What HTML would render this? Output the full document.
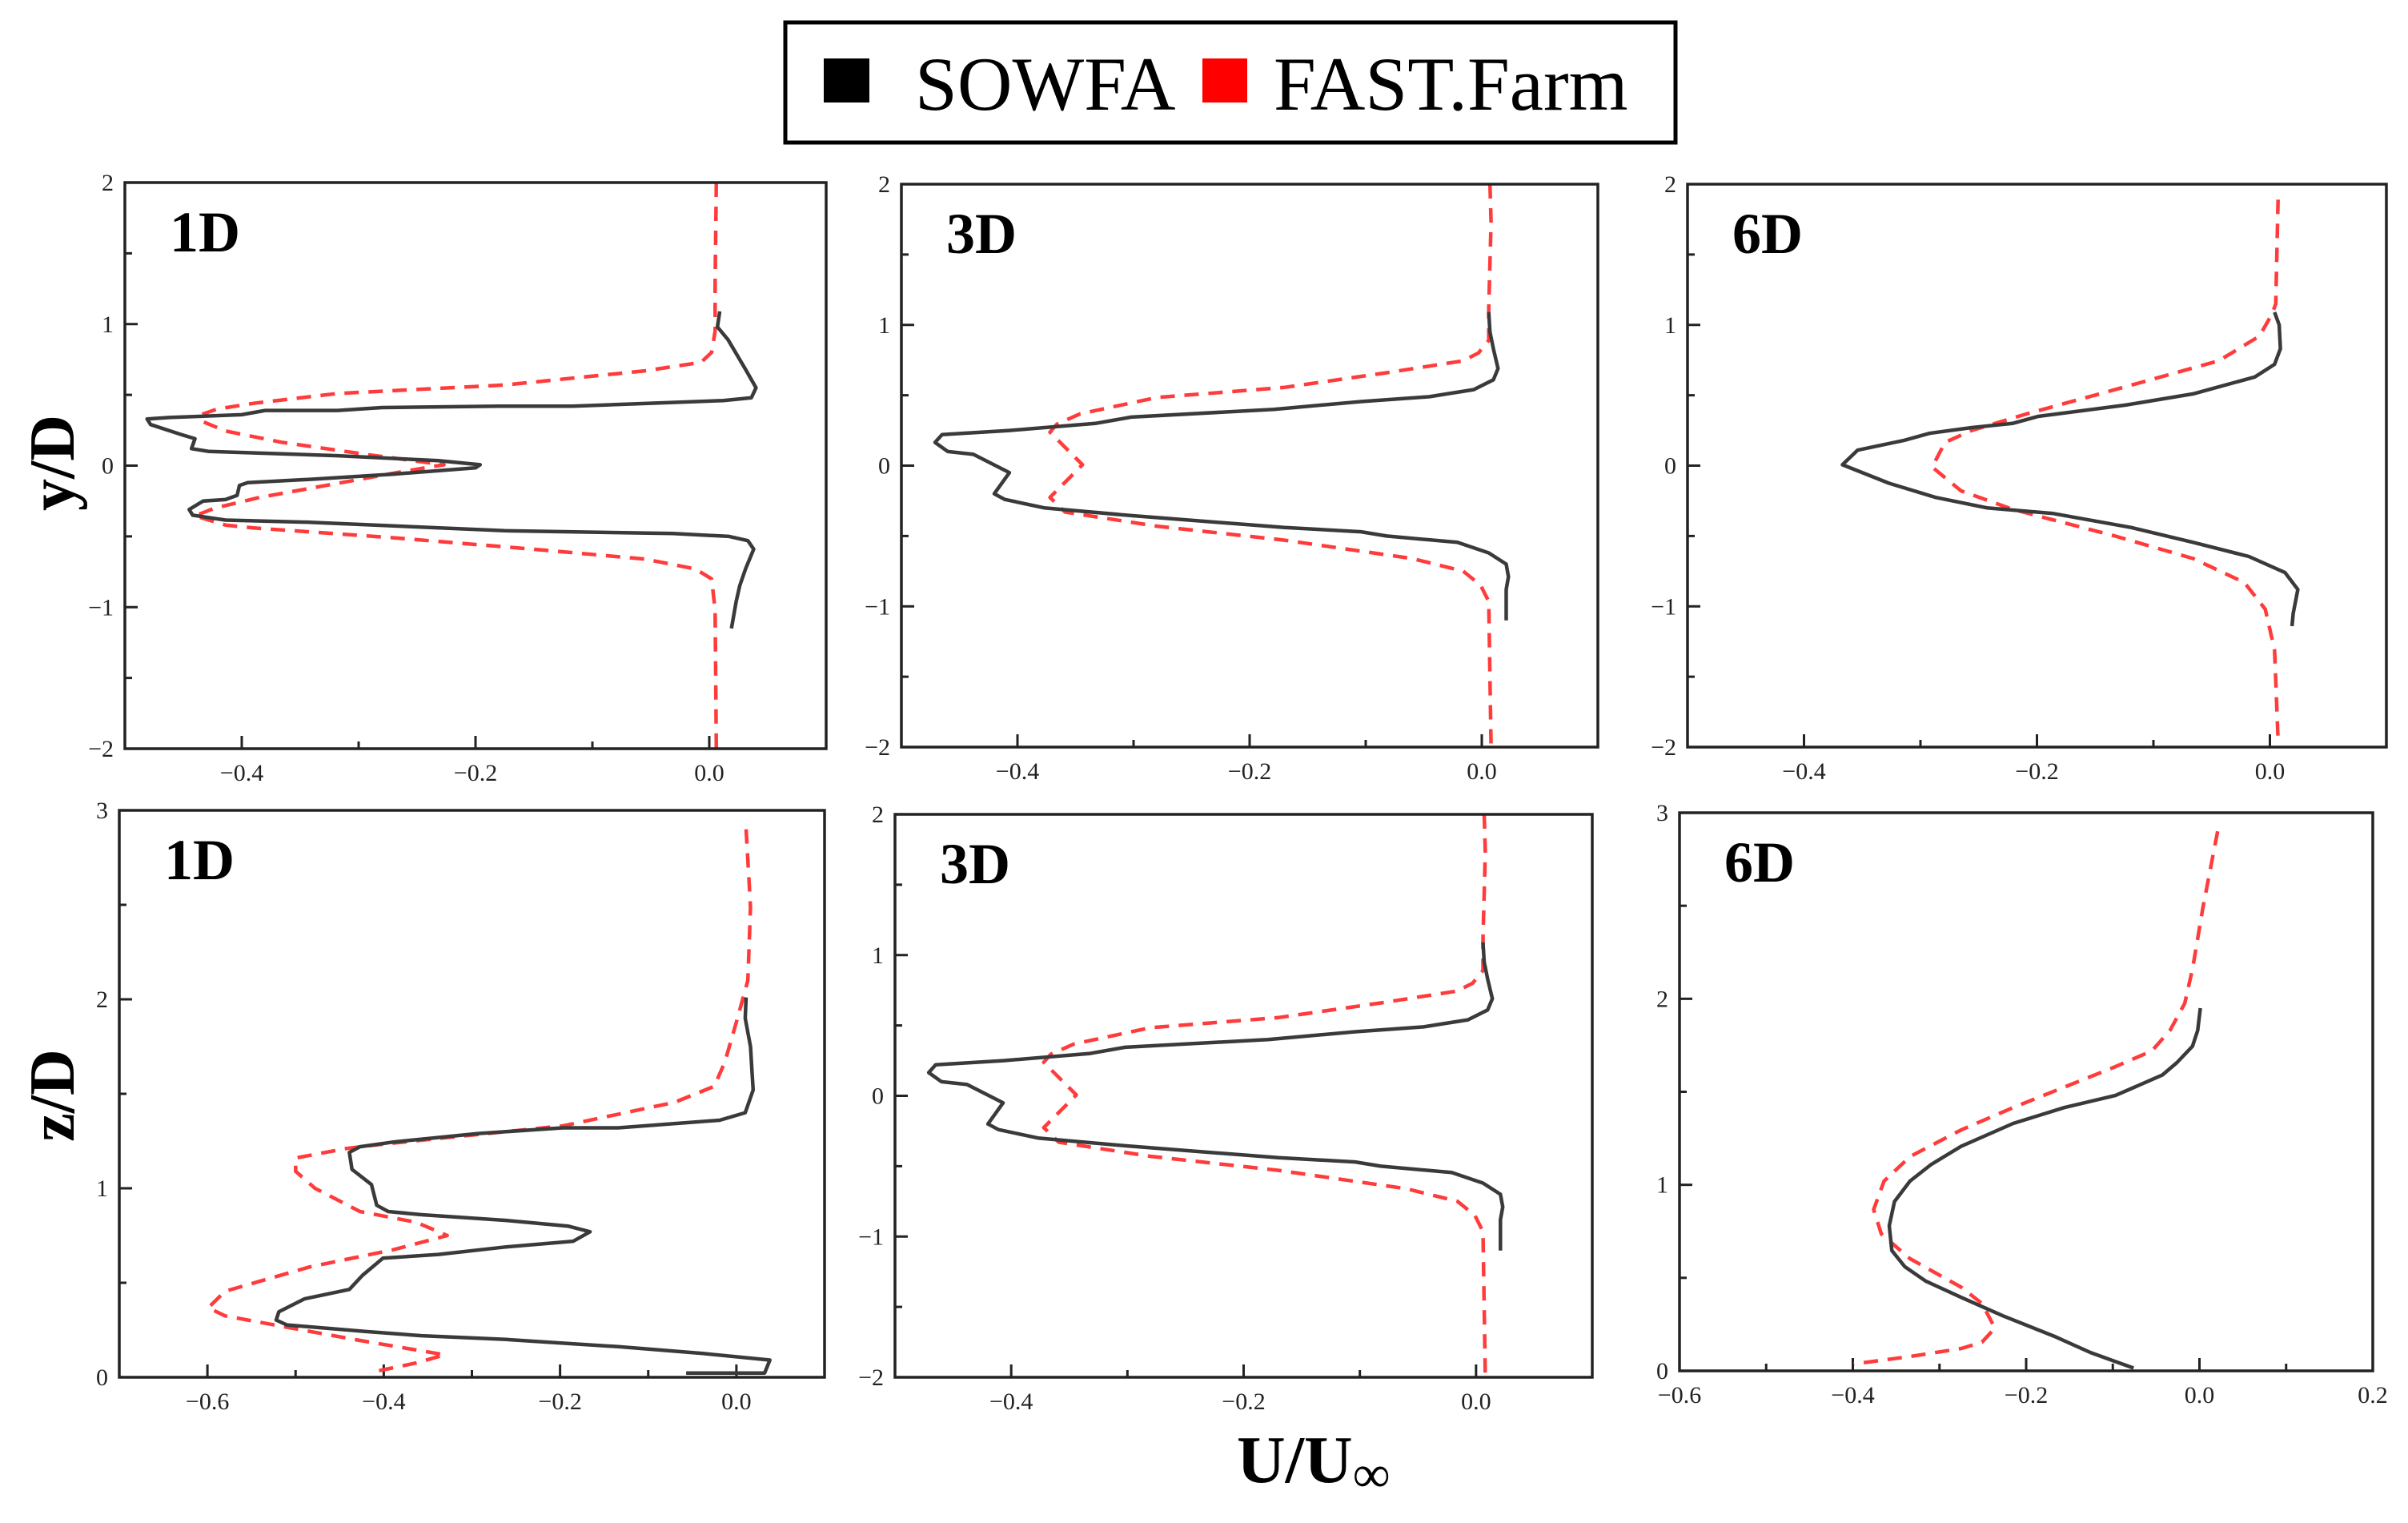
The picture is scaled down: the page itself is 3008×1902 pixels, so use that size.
<!DOCTYPE html>
<html><head><meta charset="utf-8"><style>
html,body{margin:0;padding:0;background:#fff;}
svg{display:block;font-family:"Liberation Serif",serif;}
</style></head><body>
<svg id="fig" width="3008" height="1902" viewBox="0 0 3008 1902" xmlns="http://www.w3.org/2000/svg">
<rect width="3008" height="1902" fill="#fff"/>
<g>
<rect x="981" y="28" width="1112" height="150" fill="#fff" stroke="#000" stroke-width="5"/>
<rect x="1029" y="73" width="57" height="55" fill="#000"/>
<text x="1143" y="137" font-size="95">SOWFA</text>
<rect x="1502" y="73" width="56" height="55" fill="#ff0000"/>
<text x="1591" y="137" font-size="95">FAST.Farm</text>
</g>
<text x="1545" y="1851" font-size="84" font-weight="bold">U/U<tspan font-size="66" font-weight="normal" dy="12">∞</tspan></text>
<text transform="translate(92,578) rotate(-90)" text-anchor="middle" font-size="80" font-weight="bold">y/D</text>
<text transform="translate(92,1368) rotate(-90)" text-anchor="middle" font-size="80" font-weight="bold">z/D</text>
<g id="plots"></g>
</svg>
<script>
const sowfa1Dy_x=[0.009,0.007,0.016,0.031,0.04,0.036,0.012,-0.117,-0.18,-0.28,-0.318,-0.38,-0.4,-0.462,-0.481,-0.478,-0.452,-0.44,-0.443,-0.428,-0.318,-0.232,-0.196,-0.2,-0.27,-0.337,-0.395,-0.402,-0.404,-0.414,-0.433,-0.445,-0.442,-0.414,-0.342,-0.175,-0.031,0.017,0.033,0.038,0.031,0.026,0.023,0.019];
const sowfa1Dy_y=[1.09,0.98,0.89,0.68,0.55,0.48,0.46,0.42,0.42,0.41,0.39,0.39,0.36,0.34,0.33,0.29,0.22,0.19,0.12,0.10,0.07,0.035,0.006,-0.015,-0.06,-0.095,-0.12,-0.14,-0.21,-0.24,-0.25,-0.31,-0.35,-0.385,-0.40,-0.46,-0.48,-0.5,-0.53,-0.59,-0.73,-0.85,-0.96,-1.15];
const fast1Dy_x=[0.006,0.005,0.005,0.002,-0.007,-0.055,-0.175,-0.318,-0.39,-0.421,-0.435,-0.433,-0.414,-0.366,-0.294,-0.227,-0.261,-0.318,-0.385,-0.423,-0.44,-0.414,-0.39,-0.27,-0.151,-0.055,-0.012,0.002,0.005,0.006];
const fast1Dy_y=[2.0,1.29,0.95,0.80,0.73,0.67,0.57,0.51,0.44,0.40,0.36,0.31,0.245,0.165,0.08,0.006,-0.04,-0.125,-0.225,-0.30,-0.355,-0.42,-0.44,-0.51,-0.59,-0.66,-0.73,-0.80,-1.02,-2.0];

const sowfa3Dy_x=[0.006,0.007,0.01,0.014,0.01,-0.007,-0.03,-0.045,-0.104,-0.179,-0.302,-0.333,-0.407,-0.465,-0.471,-0.46,-0.438,-0.407,-0.42,-0.411,-0.377,-0.302,-0.17,-0.104,-0.082,-0.021,0.006,0.021,0.023,0.021,0.021];
const sowfa3Dy_y=[1.09,0.95,0.83,0.69,0.61,0.54,0.51,0.49,0.455,0.40,0.345,0.30,0.25,0.22,0.165,0.10,0.08,-0.05,-0.20,-0.24,-0.30,-0.355,-0.44,-0.47,-0.50,-0.545,-0.62,-0.70,-0.79,-0.88,-1.10];
const fast3Dy_x=[0.007,0.008,0.006,0.006,-0.003,-0.016,-0.082,-0.17,-0.28,-0.346,-0.366,-0.372,-0.344,-0.372,-0.359,-0.28,-0.17,-0.06,-0.016,-0.001,0.006,0.008];
const fast3Dy_y=[2.0,1.73,1.12,0.89,0.80,0.745,0.66,0.556,0.484,0.368,0.295,0.238,0.006,-0.226,-0.33,-0.43,-0.53,-0.66,-0.75,-0.85,-0.965,-2.0];

const sowfa6Dy_x=[0.004,0.008,0.009,0.004,-0.013,-0.066,-0.124,-0.199,-0.221,-0.256,-0.292,-0.314,-0.354,-0.367,-0.327,-0.287,-0.243,-0.186,-0.119,-0.066,-0.018,0.013,0.024,0.02,0.019];
const sowfa6Dy_y=[1.09,1.0,0.83,0.72,0.63,0.51,0.43,0.35,0.30,0.27,0.23,0.18,0.11,0.006,-0.125,-0.226,-0.30,-0.34,-0.44,-0.545,-0.646,-0.76,-0.88,-1.05,-1.14];
const fast6Dy_x=[0.007,0.005,0.002,-0.009,-0.044,-0.133,-0.208,-0.256,-0.279,-0.29,-0.265,-0.221,-0.133,-0.066,-0.022,-0.004,0.004,0.007];
const fast6Dy_y=[1.89,1.15,1.08,0.92,0.745,0.54,0.37,0.25,0.165,-0.01,-0.18,-0.31,-0.50,-0.66,-0.83,-1.02,-1.31,-1.95];

const sowfa1Dz_x=[0.011,0.01,0.016,0.019,0.01,-0.019,-0.134,-0.197,-0.293,-0.389,-0.427,-0.439,-0.436,-0.414,-0.408,-0.395,-0.357,-0.261,-0.191,-0.166,-0.185,-0.261,-0.338,-0.401,-0.424,-0.439,-0.49,-0.519,-0.522,-0.51,-0.42,-0.357,-0.261,-0.134,-0.038,0.038,0.032,-0.057];
const sowfa1Dz_y=[2.01,1.90,1.75,1.52,1.40,1.36,1.32,1.32,1.29,1.245,1.22,1.19,1.10,1.02,0.91,0.877,0.86,0.83,0.80,0.77,0.72,0.69,0.65,0.63,0.54,0.465,0.415,0.346,0.303,0.277,0.242,0.22,0.2,0.162,0.126,0.091,0.022,0.022];
const fast1Dz_x=[0.011,0.016,0.013,0,-0.013,-0.025,-0.07,-0.197,-0.325,-0.408,-0.443,-0.5,-0.5,-0.478,-0.427,-0.363,-0.328,-0.389,-0.484,-0.58,-0.599,-0.58,-0.516,-0.427,-0.331,-0.363,-0.408];
const fast1Dz_y=[2.9,2.49,2.1,1.88,1.67,1.54,1.455,1.33,1.27,1.23,1.21,1.16,1.09,1.0,0.877,0.82,0.75,0.675,0.584,0.455,0.368,0.325,0.27,0.195,0.119,0.076,0.032];

const sowfa3Dz_x=[0.006,0.007,0.01,0.014,0.01,-0.007,-0.03,-0.045,-0.104,-0.179,-0.302,-0.333,-0.407,-0.465,-0.471,-0.46,-0.438,-0.407,-0.42,-0.411,-0.377,-0.302,-0.17,-0.104,-0.082,-0.021,0.006,0.021,0.023,0.021,0.021];
const sowfa3Dz_y=[1.09,0.95,0.83,0.69,0.61,0.54,0.51,0.49,0.455,0.40,0.345,0.30,0.25,0.22,0.165,0.10,0.08,-0.05,-0.20,-0.24,-0.30,-0.355,-0.44,-0.47,-0.50,-0.545,-0.62,-0.70,-0.79,-0.88,-1.10];
const fast3Dz_x=[0.007,0.008,0.006,0.006,-0.003,-0.016,-0.082,-0.17,-0.28,-0.346,-0.366,-0.372,-0.344,-0.372,-0.359,-0.28,-0.17,-0.06,-0.016,-0.001,0.006,0.008];
const fast3Dz_y=[2.0,1.73,1.12,0.89,0.80,0.745,0.66,0.556,0.484,0.368,0.295,0.238,0.006,-0.226,-0.33,-0.43,-0.53,-0.66,-0.75,-0.85,-0.965,-2.0];

const sowfa6Dz_x=[0.001,-0.002,-0.008,-0.026,-0.043,-0.097,-0.156,-0.215,-0.275,-0.31,-0.334,-0.352,-0.358,-0.355,-0.34,-0.316,-0.275,-0.227,-0.168,-0.126,-0.097,-0.076];
const sowfa6Dz_y=[1.95,1.83,1.745,1.657,1.59,1.48,1.415,1.33,1.207,1.108,1.02,0.91,0.78,0.647,0.56,0.483,0.395,0.296,0.187,0.099,0.05,0.015];
const fast6Dz_x=[0.021,0.004,-0.008,-0.017,-0.034,-0.055,-0.097,-0.156,-0.215,-0.275,-0.334,-0.364,-0.376,-0.367,-0.334,-0.275,-0.251,-0.236,-0.251,-0.275,-0.334,-0.399];
const fast6Dz_y=[2.9,2.49,2.16,1.975,1.83,1.72,1.635,1.525,1.415,1.295,1.152,1.02,0.867,0.735,0.603,0.45,0.362,0.23,0.154,0.12,0.077,0.037];

const xTicksA=[-0.4,-0.2,0.0], xMinorA=[-0.5,-0.3,-0.1,0.1];
const xTicksD=[-0.6,-0.4,-0.2,0.0], xMinorD=[-0.7,-0.5,-0.3,-0.1,0.1];
const xTicksF=[-0.6,-0.4,-0.2,0.0,0.2], xMinorF=[-0.5,-0.3,-0.1,0.1];
const yTicks2=[-2,-1,0,1,2], yMinor2=[-1.5,-0.5,0.5,1.5];
const yTicks3=[0,1,2,3], yMinor3=[0.5,1.5,2.5];

const panels=[
 {id:'1d-y',label:'1D',L:156,R:1032,T:228,B:935,xd:[-0.5,0.1],yd:[-2,2],xt:xTicksA,xm:xMinorA,yt:yTicks2,ym:yMinor2,sx:sowfa1Dy_x,sy:sowfa1Dy_y,fx:fast1Dy_x,fy:fast1Dy_y,dec:1},
 {id:'3d-y',label:'3D',L:1126,R:1996,T:230,B:933,xd:[-0.5,0.1],yd:[-2,2],xt:xTicksA,xm:xMinorA,yt:yTicks2,ym:yMinor2,sx:sowfa3Dy_x,sy:sowfa3Dy_y,fx:fast3Dy_x,fy:fast3Dy_y,dec:1},
 {id:'6d-y',label:'6D',L:2108,R:2981,T:230,B:933,xd:[-0.5,0.1],yd:[-2,2],xt:xTicksA,xm:xMinorA,yt:yTicks2,ym:yMinor2,sx:sowfa6Dy_x,sy:sowfa6Dy_y,fx:fast6Dy_x,fy:fast6Dy_y,dec:1},
 {id:'1d-z',label:'1D',L:149,R:1030,T:1012,B:1720,xd:[-0.7,0.1],yd:[0,3],xt:xTicksD,xm:xMinorD,yt:yTicks3,ym:yMinor3,sx:sowfa1Dz_x,sy:sowfa1Dz_y,fx:fast1Dz_x,fy:fast1Dz_y,dec:1},
 {id:'3d-z',label:'3D',L:1118,R:1989,T:1017,B:1720,xd:[-0.5,0.1],yd:[-2,2],xt:xTicksA,xm:xMinorA,yt:yTicks2,ym:yMinor2,sx:sowfa3Dz_x,sy:sowfa3Dz_y,fx:fast3Dz_x,fy:fast3Dz_y,dec:1},
 {id:'6d-z',label:'6D',L:2098,R:2964,T:1015,B:1712,xd:[-0.6,0.2],yd:[0,3],xt:xTicksF,xm:xMinorF,yt:yTicks3,ym:yMinor3,sx:sowfa6Dz_x,sy:sowfa6Dz_y,fx:fast6Dz_x,fy:fast6Dz_y,dec:1}
];
const NS='http://www.w3.org/2000/svg';
const root=document.getElementById('plots');
function mk(tag,attrs,parent){const e=document.createElementNS(NS,tag);for(const k in attrs)e.setAttribute(k,attrs[k]);parent.appendChild(e);return e;}
function fmt(v,d){const s=Math.abs(v).toFixed(d);return (v<-1e-9?'\u2212':'')+s;}
panels.forEach(p=>{
 const g=mk('g',{},root);
 
 
 const X=v=>p.L+(v-p.xd[0])/(p.xd[1]-p.xd[0])*(p.R-p.L);
 const Y=v=>p.B-(v-p.yd[0])/(p.yd[1]-p.yd[0])*(p.B-p.T);
 p.xt.forEach(v=>{
  const t=mk('line',{x1:X(v),x2:X(v),y1:p.B,y2:p.B-16,stroke:'#222','stroke-width':3},g);
  
  
  const l=mk('text',{x:X(v),y:p.B+40,'text-anchor':'middle','font-size':30,fill:'#222'},g);
  
  
  l.textContent=fmt(v,p.dec);
 });
 p.xm.forEach(v=>{if(v<=p.xd[0]||v>=p.xd[1])return;
  const t=mk('line',{x1:X(v),x2:X(v),y1:p.B,y2:p.B-9,stroke:'#222','stroke-width':3},g);
  
  });
 p.yt.forEach(v=>{
  const t=mk('line',{x1:p.L,x2:p.L+16,y1:Y(v),y2:Y(v),stroke:'#222','stroke-width':3},g);
  
  
  const l=mk('text',{x:p.L-14,y:Y(v)+10,'text-anchor':'end','font-size':30,fill:'#222'},g);
  
  
  l.textContent=fmt(v,0);
 });
 p.ym.forEach(v=>{
  const t=mk('line',{x1:p.L,x2:p.L+9,y1:Y(v),y2:Y(v),stroke:'#222','stroke-width':3},g);
  
  });
 const fp=p.fx.map((v,i)=>X(v).toFixed(1)+','+Y(p.fy[i]).toFixed(1)).join(' ');
 const f=mk('polyline',{points:fp,fill:'none',stroke:'#ff3b3b','stroke-width':4.5,'stroke-dasharray':'18 12','stroke-linejoin':'round'},g);
 
 
 const sp=p.sx.map((v,i)=>X(v).toFixed(1)+','+Y(p.sy[i]).toFixed(1)).join(' ');
 const s=mk('polyline',{points:sp,fill:'none',stroke:'#3a3a3a','stroke-width':4.5,'stroke-linejoin':'round'},g);
 
 
 const box=mk('rect',{x:p.L,y:p.T,width:p.R-p.L,height:p.B-p.T,fill:'none',stroke:'#222','stroke-width':3.5},g);
 
 
 const lb=mk('text',{x:p.L+56,y:p.T+86,'font-size':72,'font-weight':'bold'},g);
 
 
 lb.textContent=p.label;
});
</script>
</body></html>
